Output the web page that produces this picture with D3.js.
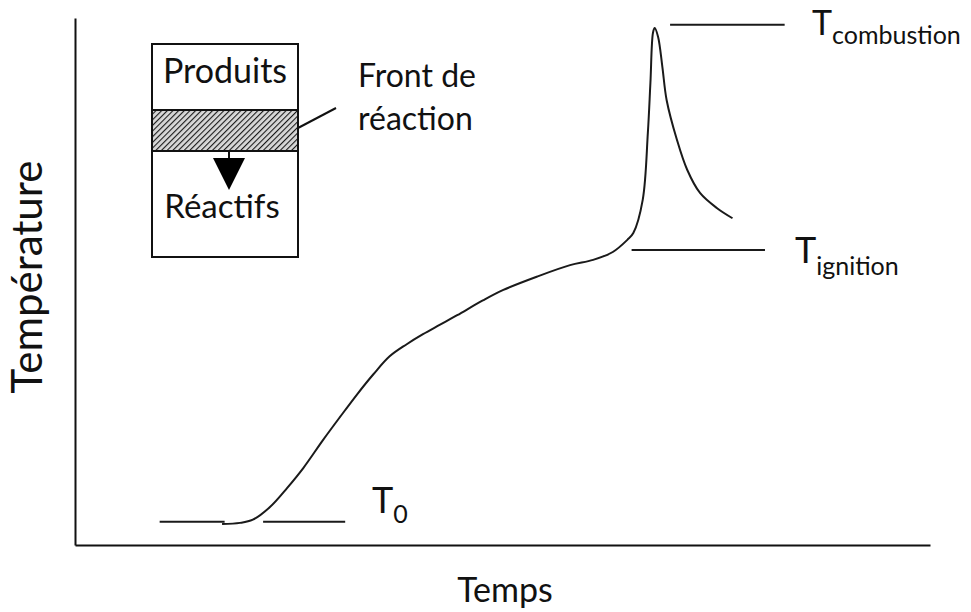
<!DOCTYPE html>
<html>
<head>
<meta charset="utf-8">
<script src="https://cdn.jsdelivr.net/npm/d3@7"></script>
<style>
  body { margin: 0; background: #fff; }
  text { font-family: "Lato", "Liberation Sans", sans-serif; fill: #111; }
</style>
</head>
<body>
<svg id="chart" width="971" height="612"></svg>
<script>
// temperature profile (arbitrary units)
const timeVals = [17.2, 19.3, 20.8, 22.8, 24.8, 26.7, 29.0, 31.0, 33.0, 34.9, 36.8, 38.8, 40.7, 42.7, 44.7, 47.7, 50.1, 54.0, 57.9, 60.6, 62.9, 64.6, 65.3, 66.4, 67.0, 67.3, 67.6, 67.8, 68.2, 68.7, 69.2, 70.4, 71.6, 73.1, 75.1, 76.9];
const tempVals = [4.0, 4.2, 4.8, 7.2, 10.8, 14.6, 19.9, 24.3, 28.6, 32.4, 35.8, 38.1, 40.0, 41.8, 43.6, 46.4, 48.4, 50.9, 53.1, 54.1, 55.6, 57.9, 59.2, 65.5, 78.2, 87.7, 97.2, 98.1, 96.4, 90.7, 84.4, 76.9, 71.2, 66.8, 63.9, 62.0];

// reference levels
const levelNames = ['0', 'ignition', 'combustion'];
const levelVals = [4.4, 56.0, 98.7];
const levelStart = [[9.9, 22.0], [65.1], [69.6]];
const levelEnd = [[17.5, 31.6], [80.7], [83.0]];

const xLabel = 'Temps';
const yLabel = 'Température';
const insetTop = 'Produits';
const insetBottom = 'Réactifs';
const frontLabel = ['Front de', 'réaction'];

const svg = d3.select('#chart');
const margin = { left: 75, right: 41, top: 18, bottom: 67 };
const width = 971, height = 612;

const x = d3.scaleLinear().domain([0, 100]).range([margin.left, width - margin.right]);
const y = d3.scaleLinear().domain([0, 100]).range([height - margin.bottom, margin.top]);

// axes, no ticks
svg.append('g')
    .attr('transform', `translate(0,${y(0)})`)
    .call(d3.axisBottom(x).tickValues([]).tickSizeOuter(0))
    .select('.domain').attr('stroke', '#111').attr('stroke-width', 2);
svg.append('g')
    .attr('transform', `translate(${x(0)},0)`)
    .call(d3.axisLeft(y).tickValues([]).tickSizeOuter(0))
    .select('.domain').attr('stroke', '#111').attr('stroke-width', 2);

svg.append('text')
    .attr('x', 505).attr('y', 602)
    .attr('text-anchor', 'middle')
    .attr('font-size', 34)
    .text(xLabel);
svg.append('text')
    .attr('transform', 'translate(42,277) rotate(-90)')
    .attr('text-anchor', 'middle')
    .attr('font-size', 42)
    .text(yLabel);

// curve
const line = d3.line()
    .x(d => x(d[0]))
    .y(d => y(d[1]))
    .curve(d3.curveCatmullRom.alpha(0.5));

svg.append('path')
    .datum(d3.zip(timeVals, tempVals))
    .attr('d', line)
    .attr('fill', 'none')
    .attr('stroke', '#1a1a1a')
    .attr('stroke-width', 2);

// level lines
levelVals.forEach((v, i) => {
    levelStart[i].forEach((s, j) => {
        svg.append('line')
            .attr('x1', x(s)).attr('x2', x(levelEnd[i][j]))
            .attr('y1', y(v)).attr('y2', y(v))
            .attr('stroke', '#1a1a1a')
            .attr('stroke-width', 2);
    });
});

const levelLabelPos = [[372, 513, 10], [795, 263, 12], [812, 35, 9]];
levelNames.forEach((name, i) => {
    const p = levelLabelPos[i];
    const t = svg.append('text')
        .attr('x', p[0]).attr('y', p[1])
        .attr('font-size', i === 2 ? 34 : 36);
    t.append('tspan').text('T');
    t.append('tspan')
        .attr('dy', p[2])
        .attr('font-size', 25)
        .text(name);
});

// inset: reaction front sketch
const defs = svg.append('defs');
const pat = defs.append('pattern')
    .attr('id', 'hatch')
    .attr('patternUnits', 'userSpaceOnUse')
    .attr('width', 4).attr('height', 4)
    .attr('patternTransform', 'rotate(45)');
pat.append('rect').attr('width', 4).attr('height', 4).attr('fill', '#d8d8d8');
pat.append('line')
    .attr('x1', 0).attr('y1', 0).attr('x2', 0).attr('y2', 4)
    .attr('stroke', '#1a1a1a').attr('stroke-width', 2.2);

const inset = svg.append('g');
inset.append('rect')
    .attr('x', 152).attr('y', 110).attr('width', 146).attr('height', 41)
    .attr('fill', 'url(#hatch)');
inset.append('rect')
    .attr('x', 152).attr('y', 44).attr('width', 146).attr('height', 213)
    .attr('fill', 'none')
    .attr('stroke', '#111').attr('stroke-width', 2);
[110, 151].forEach(yy => {
    inset.append('line')
        .attr('x1', 152).attr('x2', 298).attr('y1', yy).attr('y2', yy)
        .attr('stroke', '#111').attr('stroke-width', 2);
});
inset.append('line')
    .attr('x1', 229).attr('x2', 229).attr('y1', 151).attr('y2', 160)
    .attr('stroke', '#111').attr('stroke-width', 2);
inset.append('path')
    .attr('d', 'M213,158 L245,158 L229,190 Z')
    .attr('fill', '#000');
inset.append('line')
    .attr('x1', 298).attr('y1', 128).attr('x2', 336).attr('y2', 108)
    .attr('stroke', '#111').attr('stroke-width', 2);

inset.append('text')
    .attr('x', 225).attr('y', 83)
    .attr('text-anchor', 'middle')
    .attr('font-size', 34)
    .text(insetTop);
inset.append('text')
    .attr('x', 222).attr('y', 218)
    .attr('text-anchor', 'middle')
    .attr('font-size', 33)
    .text(insetBottom);
frontLabel.forEach((s, i) => {
    inset.append('text')
        .attr('x', 358).attr('y', 87 + i * 43)
        .attr('font-size', 32)
        .text(s);
});
</script>
</body>
</html>
